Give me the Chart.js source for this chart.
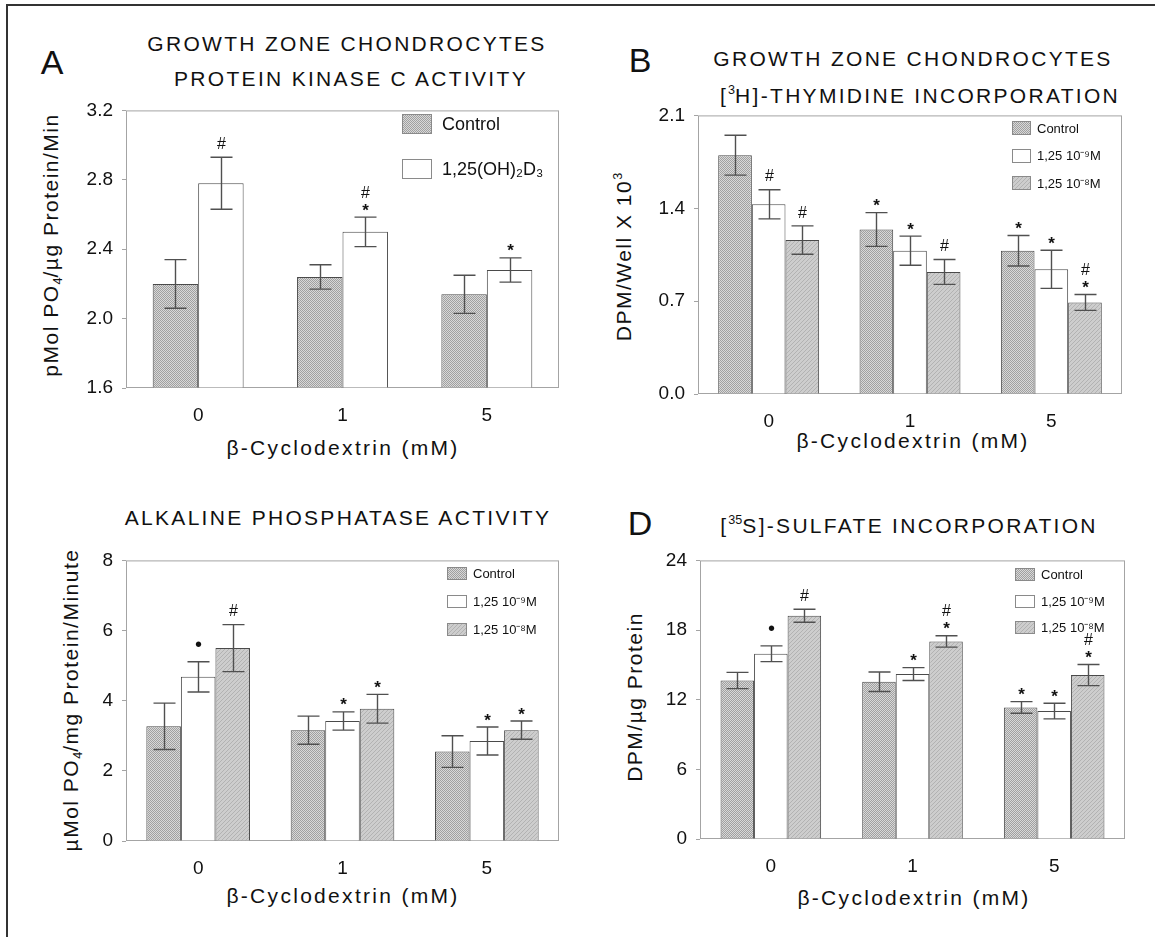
<!DOCTYPE html>
<html>
<head>
<meta charset="utf-8">
<script src="https://cdn.jsdelivr.net/npm/chart.js@4.4.1/dist/chart.umd.min.js"></script>
<style>
html, body { margin: 0; padding: 0; background: #fff; }
body { width: 1155px; height: 937px; position: relative; overflow: hidden;
       font-family: "Liberation Sans", Arial, sans-serif; color: #111; }
canvas { position: absolute; }
.rule { position: absolute; background: #333; }
.txt { position: absolute; white-space: nowrap; line-height: 1; transform: translate(-50%, -50%); }
.title { font-size: 21px; letter-spacing: 2.3px; }
.letter { font-size: 34px; }
.xt { font-size: 21px; letter-spacing: 2.3px; }
.yt { font-size: 21px; letter-spacing: 1.5px; transform: translate(-50%, -50%) rotate(-90deg); }
.sb { font-size: 0.6em; vertical-align: -0.3em; letter-spacing: 0; }
.sp { font-size: 0.6em; vertical-align: 0.65em; letter-spacing: 0; }
</style>
</head>
<body>

<div class="rule" style="left:6px;top:4px;width:1149px;height:2px"></div>
<div class="rule" style="left:6px;top:4px;width:2px;height:933px"></div>

<div class="txt letter" style="left:52px;top:62px">A</div>
<div class="txt title" style="left:347px;top:43px">GROWTH ZONE CHONDROCYTES</div>
<div class="txt title" style="left:351px;top:78px">PROTEIN KINASE C ACTIVITY</div>
<div class="txt yt" style="left:52px;top:245px">pMol PO<span class="sb">4</span>/µg Protein/Min</div>
<div class="txt xt" style="left:343px;top:447px">β-Cyclodextrin (mM)</div>

<div class="txt letter" style="left:640px;top:60px">B</div>
<div class="txt title" style="left:913px;top:58px">GROWTH ZONE CHONDROCYTES</div>
<div class="txt title" style="left:920px;top:95px">[<span class="sp">3</span>H]-THYMIDINE INCORPORATION</div>
<div class="txt yt" style="left:623px;top:257px">DPM/Well X 10<span class="sp">3</span></div>
<div class="txt xt" style="left:913px;top:440px">β-Cyclodextrin (mM)</div>

<div class="txt title" style="left:338px;top:517px">ALKALINE PHOSPHATASE ACTIVITY</div>
<div class="txt yt" style="left:72px;top:700px">µMol PO<span class="sb">4</span>/mg Protein/Minute</div>
<div class="txt xt" style="left:343px;top:895px">β-Cyclodextrin (mM)</div>

<div class="txt letter" style="left:640px;top:523px">D</div>
<div class="txt title" style="left:909px;top:525px">[<span class="sp">35</span>S]-SULFATE INCORPORATION</div>
<div class="txt yt" style="left:634px;top:697px">DPM/µg Protein</div>
<div class="txt xt" style="left:914px;top:897px">β-Cyclodextrin (mM)</div>

<canvas id="chartA" width="570" height="340" style="left:10px;top:90px"></canvas>
<canvas id="chartB" width="565" height="340" style="left:585px;top:95px"></canvas>
<canvas id="chartC" width="570" height="370" style="left:10px;top:540px"></canvas>
<canvas id="chartD" width="565" height="370" style="left:585px;top:540px"></canvas>

<script>

// Dose of beta-cyclodextrin, shared by all four panels.
var doseLabels = ["0", "1", "5"];

// Panel A: protein kinase C activity (pMol PO4/ug protein/min).
var pkcTicks = [1.6, 2.0, 2.4, 2.8, 3.2];
var pkcControl = [2.20, 2.24, 2.14];
var pkcControlErr = [0.14, 0.07, 0.11];
var pkcControlMarks = ["", "", ""];
var pkcVitD = [2.78, 2.50, 2.28];
var pkcVitDErr = [0.15, 0.085, 0.07];
var pkcVitDMarks = ["#", "#*", "*"];

// Panel B: [3H]-thymidine incorporation (DPM/well x 10^3).
var thyTicks = [0.0, 0.7, 1.4, 2.1];
var thyControl = [1.80, 1.24, 1.08];
var thyControlErr = [0.15, 0.127, 0.115];
var thyControlMarks = ["", "*", "*"];
var thyLow = [1.43, 1.08, 0.94];
var thyLowErr = [0.11, 0.11, 0.144];
var thyLowMarks = ["#", "*", "*"];
var thyHigh = [1.16, 0.92, 0.69];
var thyHighErr = [0.107, 0.094, 0.06];
var thyHighMarks = ["#", "#", "#*"];

// Panel C: alkaline phosphatase activity (uMol PO4/mg protein/minute).
var alpTicks = [0, 2, 4, 6, 8];
var alpControl = [3.27, 3.16, 2.55];
var alpControlErr = [0.66, 0.40, 0.45];
var alpControlMarks = ["", "", ""];
var alpLow = [4.68, 3.42, 2.85];
var alpLowErr = [0.43, 0.26, 0.40];
var alpLowMarks = ["•", "*", "*"];
var alpHigh = [5.50, 3.77, 3.16];
var alpHighErr = [0.67, 0.41, 0.26];
var alpHighMarks = ["#", "*", "*"];

// Panel D: [35S]-sulfate incorporation (DPM/ug protein).
var sulTicks = [0, 6, 12, 18, 24];
var sulControl = [13.65, 13.54, 11.33];
var sulControlErr = [0.70, 0.84, 0.50];
var sulControlMarks = ["", "", "*"];
var sulLow = [15.96, 14.21, 11.02];
var sulLowErr = [0.68, 0.55, 0.67];
var sulLowMarks = ["•", "*", "*"];
var sulHigh = [19.23, 17.02, 14.12];
var sulHighErr = [0.56, 0.49, 0.91];
var sulHighMarks = ["#", "#*", "#*"];

var FONT = "'Liberation Sans', Arial, sans-serif";


/**
* Build a small repeating fill for the bars.
*/
function makePattern(kind) {

    var c = document.createElement("canvas");
    c.width = 4;
    c.height = 4;
    var ctx = c.getContext("2d");

    if (kind === "check") {
        // Fine stipple, one pixel checkerboard.
        ctx.fillStyle = "#d8d8d8";
        ctx.fillRect(0, 0, 4, 4);
        ctx.fillStyle = "#a0a0a0";
        for (var y = 0; y < 4; y++) {
            for (var x = 0; x < 4; x++) {
                if ((x + y) % 2 === 0) {
                    ctx.fillRect(x, y, 1, 1);
                }
            }
        }
    } else {
        // Soft diagonal hatching, "////".
        ctx.fillStyle = "#cdcdcd";
        ctx.fillRect(0, 0, 4, 4);
        ctx.fillStyle = "#b2b2b2";
        for (var i = 0; i < 4; i++) {
            ctx.fillRect(i, 3 - i, 1, 1);
        }
    }

    return(ctx.createPattern(c, "repeat"));

} // End of makePattern()

var fillControl = makePattern("check");
var fillWhite = "#ffffff";
var fillHatch = makePattern("hatch");


/**
* Light grey box round the plot area.
*/
var framePlugin = {
    id: "frame",
    beforeDatasetsDraw: function(chart) {
        var a = chart.chartArea;
        var ctx = chart.ctx;
        ctx.save();
        ctx.strokeStyle = "#a4a4a4";
        ctx.lineWidth = 1;
        ctx.strokeRect(a.left + 0.5, a.top + 0.5, a.right - a.left - 1, a.bottom - a.top - 1);
        ctx.restore();
    }
};


/**
* Error bars and significance marks, placed through the y scale.
*/
var errorPlugin = {
    id: "errors",
    afterDatasetsDraw: function(chart) {

        var ctx = chart.ctx;
        var y = chart.scales.y;

        chart.data.datasets.forEach(function(ds, di) {

            var meta = chart.getDatasetMeta(di);

            meta.data.forEach(function(bar, i) {

                var v = ds.data[i];
                var e = ds.errors[i];
                var top = y.getPixelForValue(v + e);
                var bot = y.getPixelForValue(v - e);
                var x = Math.round(bar.x) + 0.5;

                ctx.save();
                ctx.strokeStyle = "#505050";
                ctx.lineWidth = 1.4;
                ctx.beginPath();
                ctx.moveTo(x, top);
                ctx.lineTo(x, bot);
                ctx.moveTo(x - 11, top);
                ctx.lineTo(x + 11, top);
                ctx.moveTo(x - 11, bot);
                ctx.lineTo(x + 11, bot);
                ctx.stroke();

                //
                // Marks are stacked upwards; the last character sits
                // closest to the error bar.
                //
                var marks = (ds.marks[i] || "").split("");
                var cy = top;
                ctx.fillStyle = "#111";
                ctx.textAlign = "center";
                ctx.textBaseline = "alphabetic";
                for (var k = marks.length - 1; k >= 0; k--) {
                    var m = marks[k];
                    var first = (k === marks.length - 1);
                    if (m === "*") {
                        cy -= first ? 11 : 13;
                        ctx.font = "bold 17px " + FONT;
                        ctx.fillText("*", x, cy + 0.56 * 17);
                    } else if (m === "#") {
                        cy -= 14;
                        ctx.font = "16px " + FONT;
                        ctx.fillText("#", x, cy + 0.36 * 16);
                    } else {
                        cy -= 18;
                        ctx.font = "20px " + FONT;
                        ctx.fillText("•", x, cy + 0.34 * 20);
                    }
                }
                ctx.restore();

            });

        });

    } // End of afterDatasetsDraw()
};


/**
* Legend drawn inside the top right corner of the plot area.
*/
var insideLegendPlugin = {
    id: "insideLegend",
    afterDraw: function(chart, args, opts) {

        var ctx = chart.ctx;
        var a = chart.chartArea;
        var x0 = a.right - opts.fromRight;

        chart.data.datasets.forEach(function(ds, i) {
            var cy = a.top + opts.firstY + i * opts.spacing;
            var y0 = Math.round(cy - opts.boxH / 2);
            ctx.save();
            ctx.fillStyle = ds.backgroundColor;
            ctx.fillRect(x0, y0, opts.boxW, opts.boxH);
            ctx.strokeStyle = "#8a8a8a";
            ctx.lineWidth = 1;
            ctx.strokeRect(x0 + 0.5, y0 + 0.5, opts.boxW - 1, opts.boxH - 1);
            ctx.fillStyle = "#111";
            ctx.font = opts.fontSize + "px " + FONT;
            ctx.textAlign = "left";
            ctx.textBaseline = "middle";
            ctx.fillText(ds.label, x0 + opts.textGap, cy + 1);
            ctx.restore();
        });

    }
};


/**
* Build one panel. The plot area is pinned to the box given in page pixels.
*/
function makePanel(id, box, area, ticks, decimals, datasets, pct, legend) {

    var canvas = document.getElementById(id);
    var yWidth = area.left - box.left;
    var xHeight = box.top + box.height - area.bottom;

    datasets.forEach(function(ds) {
        ds.borderColor = "#4a4a4a";
        ds.borderWidth = 1;
        ds.barPercentage = 1.0;
        ds.categoryPercentage = pct;
        ds.base = ticks[0];
    });

    return(new Chart(canvas.getContext("2d"), {
        type: "bar",
        data: { labels: doseLabels, datasets: datasets },
        plugins: [framePlugin, errorPlugin, insideLegendPlugin],
        options: {
            responsive: false,
            animation: false,
            devicePixelRatio: 1,
            layout: {
                padding: {
                    left: 0,
                    top: area.top - box.top,
                    right: box.left + box.width - area.right,
                    bottom: 0
                }
            },
            scales: {
                x: {
                    grid: { display: false },
                    border: { display: false },
                    ticks: { color: "#111", padding: 8, font: { family: FONT, size: 19 } },
                    afterFit: function(scale) { scale.height = xHeight; }
                },
                y: {
                    min: ticks[0],
                    max: ticks[ticks.length - 1],
                    grid: { drawOnChartArea: false, drawTicks: true, tickLength: 4, color: "#a4a4a4" },
                    border: { display: false },
                    ticks: {
                        color: "#111",
                        padding: 9,
                        font: { family: FONT, size: 19 },
                        callback: function(v) { return(Number(v).toFixed(decimals)); }
                    },
                    afterBuildTicks: function(scale) {
                        scale.ticks = ticks.map(function(v) { return({ value: v }); });
                    },
                    afterFit: function(scale) { scale.width = yWidth; }
                }
            },
            plugins: {
                legend: { display: false },
                tooltip: { enabled: false },
                insideLegend: legend
            }
        }
    }));

} // End of makePanel()


makePanel("chartA",
    { left: 10, top: 90, width: 570, height: 340 },
    { left: 126, top: 103, right: 559, bottom: 388 },
    pkcTicks, 1,
    [
        { label: "Control", data: pkcControl, errors: pkcControlErr, marks: pkcControlMarks, backgroundColor: fillControl },
        { label: "1,25(OH)₂D₃", data: pkcVitD, errors: pkcVitDErr, marks: pkcVitDMarks, backgroundColor: fillWhite }
    ],
    0.63,
    { fromRight: 157, firstY: 14, spacing: 45, boxW: 30, boxH: 20, textGap: 40, fontSize: 18 });

makePanel("chartB",
    { left: 585, top: 95, width: 565, height: 340 },
    { left: 698, top: 113, right: 1122, bottom: 394 },
    thyTicks, 1,
    [
        { label: "Control", data: thyControl, errors: thyControlErr, marks: thyControlMarks, backgroundColor: fillControl },
        { label: "1,25 10⁻⁹M", data: thyLow, errors: thyLowErr, marks: thyLowMarks, backgroundColor: fillWhite },
        { label: "1,25 10⁻⁸M", data: thyHigh, errors: thyHighErr, marks: thyHighMarks, backgroundColor: fillHatch }
    ],
    0.714,
    { fromRight: 110, firstY: 13, spacing: 27.5, boxW: 19, boxH: 14, textGap: 25, fontSize: 13 });

makePanel("chartC",
    { left: 10, top: 540, width: 570, height: 370 },
    { left: 126, top: 553, right: 559, bottom: 841 },
    alpTicks, 0,
    [
        { label: "Control", data: alpControl, errors: alpControlErr, marks: alpControlMarks, backgroundColor: fillControl },
        { label: "1,25 10⁻⁹M", data: alpLow, errors: alpLowErr, marks: alpLowMarks, backgroundColor: fillWhite },
        { label: "1,25 10⁻⁸M", data: alpHigh, errors: alpHighErr, marks: alpHighMarks, backgroundColor: fillHatch }
    ],
    0.718,
    { fromRight: 112, firstY: 13.5, spacing: 28, boxW: 20, boxH: 13, textGap: 26, fontSize: 13 });

makePanel("chartD",
    { left: 585, top: 540, width: 565, height: 370 },
    { left: 700, top: 552, right: 1125, bottom: 839 },
    sulTicks, 0,
    [
        { label: "Control", data: sulControl, errors: sulControlErr, marks: sulControlMarks, backgroundColor: fillControl },
        { label: "1,25 10⁻⁹M", data: sulLow, errors: sulLowErr, marks: sulLowMarks, backgroundColor: fillWhite },
        { label: "1,25 10⁻⁸M", data: sulHigh, errors: sulHighErr, marks: sulHighMarks, backgroundColor: fillHatch }
    ],
    0.71,
    { fromRight: 110, firstY: 14.5, spacing: 26.5, boxW: 20, boxH: 13, textGap: 26, fontSize: 13 });

</script>
</body>
</html>
